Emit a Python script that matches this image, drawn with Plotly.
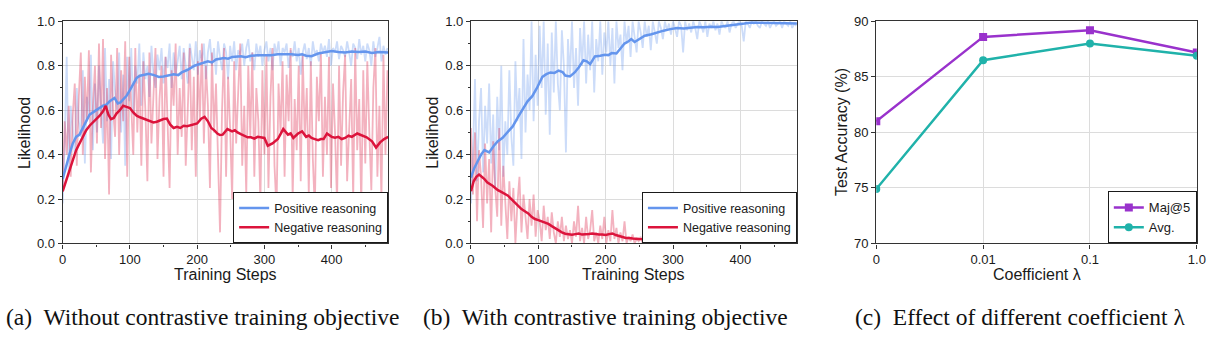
import plotly.graph_objects as go

W, H = 1217, 342

# ---------------- data ----------------
# raw likelihood samples, logged every 3 training steps
raw_steps = list(range(0, 484, 3))

a_pos_raw = [0.18, 0.45, 0.84, 0.30, 0.62, 0.50, 0.40, 0.70, 0.55, 0.48,
             0.78, 0.36, 0.66, 0.58, 0.85, 0.42, 0.72, 0.50, 0.80, 0.62,
             0.45, 0.88, 0.55, 0.74, 0.38, 0.82, 0.68, 0.60, 0.86, 0.50,
             0.76, 0.35, 0.84, 0.64, 0.88, 0.58, 0.80, 0.72, 0.90, 0.62,
             0.86, 0.74, 0.80, 0.66, 0.89, 0.76, 0.70, 0.85, 0.78, 0.88,
             0.72, 0.84, 0.79, 0.90, 0.70, 0.86, 0.76, 0.82, 0.89, 0.74,
             0.88, 0.80, 0.72, 0.90, 0.84, 0.78, 0.91, 0.76, 0.87, 0.82,
             0.90, 0.74, 0.86, 0.92, 0.80, 0.88, 0.76, 0.91, 0.84, 0.78,
             0.90, 0.86, 0.74, 0.89, 0.82, 0.91, 0.78, 0.87, 0.85, 0.90,
             0.80, 0.88, 0.92, 0.82, 0.86, 0.78, 0.90, 0.84, 0.89, 0.80,
             0.87, 0.91, 0.82, 0.88, 0.78, 0.90, 0.85, 0.91, 0.80, 0.88,
             0.86, 0.90, 0.79, 0.87, 0.84, 0.91, 0.82, 0.88, 0.76, 0.86,
             0.90, 0.83, 0.88, 0.80, 0.91, 0.85, 0.87, 0.82, 0.90, 0.86,
             0.89, 0.84, 0.92, 0.80, 0.88, 0.86, 0.91, 0.83, 0.89, 0.87,
             0.84, 0.91, 0.86, 0.80, 0.90, 0.88, 0.83, 0.92, 0.85, 0.89,
             0.82, 0.90, 0.87, 0.80, 0.91, 0.84, 0.88, 0.93, 0.82, 0.89,
             0.85, 0.88]

a_neg_raw = [0.24, 0.55, 0.40, 0.62, 0.30, 0.58, 0.72, 0.35, 0.66, 0.86,
             0.40, 0.75, 0.55, 0.87, 0.32, 0.62, 0.80, 0.45, 0.90, 0.52,
             0.92, 0.38, 0.70, 0.22, 0.85, 0.60, 0.48, 0.88, 0.40, 0.78,
             0.55, 0.91, 0.30, 0.84, 0.62, 0.40, 0.88, 0.50, 0.76, 0.35,
             0.82, 0.60, 0.28, 0.86, 0.45, 0.70, 0.88, 0.38, 0.65, 0.80,
             0.30, 0.84, 0.55, 0.25, 0.78, 0.62, 0.90, 0.40, 0.70, 0.48,
             0.86, 0.35, 0.60, 0.88, 0.42, 0.75, 0.30, 0.82, 0.55, 0.90,
             0.45, 0.80, 0.62, 0.25, 0.86, 0.50, 0.72, 0.35, 0.05, 0.60,
             0.88, 0.30, 0.75, 0.52, 0.20, 0.82, 0.45, 0.68, 0.90, 0.35,
             0.62, 0.22, 0.80, 0.48, 0.86, 0.30, 0.70, 0.55, 0.18, 0.78,
             0.40, 0.85, 0.25, 0.66, 0.88, 0.35, 0.15, 0.72, 0.50, 0.82,
             0.30, 0.76, 0.55, 0.88, 0.20, 0.65, 0.42, 0.80, 0.28, 0.85,
             0.48, 0.70, 0.22, 0.82, 0.38, 0.15, 0.75, 0.55, 0.86, 0.30,
             0.66, 0.40, 0.84, 0.25, 0.72, 0.50, 0.18, 0.80, 0.35, 0.68,
             0.85, 0.28, 0.55, 0.74, 0.20, 0.88, 0.42, 0.65, 0.17, 0.78,
             0.36, 0.82, 0.50, 0.24, 0.70, 0.88, 0.30, 0.62, 0.20, 0.85,
             0.40, 0.78]

b_pos_raw = [0.18, 0.40, 0.74, 0.28, 0.55, 0.70, 0.32, 0.62, 0.45, 0.72,
             0.36, 0.58, 0.25, 0.66, 0.42, 0.80, 0.30, 0.55, 0.40, 0.78,
             0.48, 0.35, 0.82, 0.55, 0.70, 0.38, 0.92, 0.50, 0.76, 0.60,
             1.00, 0.55, 0.85, 0.62, 0.98, 0.70, 1.00, 0.58, 0.90, 0.49,
             0.95, 0.68, 1.00, 0.72, 0.60, 0.96, 0.80, 0.41, 0.92, 0.75,
             1.00, 0.70, 0.88, 0.62, 0.97, 0.80, 1.00, 0.72, 0.94, 0.78,
             1.00, 0.68, 0.92, 0.82, 1.00, 0.76, 0.95, 0.86, 1.00, 0.80,
             0.97, 0.72, 1.00, 0.88, 0.94, 0.78, 1.00, 0.90, 0.98, 0.84,
             1.00, 0.92, 0.86, 1.00, 0.95, 0.88, 1.00, 0.93, 0.98, 0.87,
             1.00, 0.95, 0.90, 1.00, 0.97, 0.92, 1.00, 0.96, 0.99, 0.94,
             1.00, 0.97, 0.93, 1.00, 0.98, 0.86, 1.00, 0.96, 0.99, 0.95,
             1.00, 0.97, 0.92, 1.00, 0.98, 0.95, 1.00, 0.93, 0.99, 0.97,
             1.00, 0.96, 0.99, 0.94, 1.00, 0.98, 0.97, 1.00, 0.95, 0.99,
             1.00, 0.97, 0.99, 1.00, 0.98, 0.91, 1.00, 0.99, 0.97, 1.00,
             0.99, 1.00, 0.98, 0.97, 1.00, 0.99, 0.98, 1.00, 0.97, 0.99,
             1.00, 0.98, 0.99, 1.00, 0.97, 1.00, 0.99, 0.98, 1.00, 0.97,
             0.99, 0.98]

b_neg_raw = [0.52, 0.22, 0.50, 0.10, 0.42, 0.30, 0.07, 0.45, 0.18, 0.38,
             0.05, 0.46, 0.25, 0.12, 0.52, 0.08, 0.35, 0.15, 0.02, 0.28,
             0.10, 0.25, 0.00, 0.18, 0.30, 0.05, 0.22, 0.12, 0.02, 0.20,
             0.08, 0.22, 0.03, 0.15, 0.10, 0.01, 0.17, 0.06, 0.12, 0.02,
             0.14, 0.05, 0.00, 0.10, 0.03, 0.12, 0.01, 0.08, 0.02, 0.06,
             0.00, 0.10, 0.03, 0.17, 0.01, 0.07, 0.00, 0.12, 0.02, 0.06,
             0.15, 0.01, 0.05, 0.00, 0.08, 0.02, 0.12, 0.00, 0.06, 0.01,
             0.15, 0.02, 0.07, 0.00, 0.05, 0.01, 0.10, 0.00, 0.03, 0.01,
             0.04, 0.00, 0.02, 0.01, 0.03, 0.00, 0.02, 0.01, 0.00, 0.02,
             0.01, 0.00, 0.02, 0.01, 0.00, 0.01, 0.02, 0.00, 0.01, 0.01,
             0.00, 0.02, 0.01, 0.00, 0.01, 0.00, 0.02, 0.01, 0.00, 0.01,
             0.01, 0.00, 0.02, 0.00, 0.01, 0.01, 0.00, 0.01, 0.02, 0.00,
             0.01, 0.00, 0.01, 0.01, 0.00, 0.02, 0.00, 0.01, 0.00, 0.01,
             0.00, 0.01, 0.01, 0.00, 0.01, 0.00, 0.02, 0.00, 0.01, 0.00,
             0.01, 0.00, 0.00, 0.01, 0.00, 0.01, 0.01, 0.00, 0.01, 0.00,
             0.00, 0.01, 0.00, 0.01, 0.00, 0.00, 0.01, 0.00, 0.01, 0.00,
             0.01, 0.00]

# smoothed curves
a_pos_steps = [0, 5, 10, 15, 20, 25, 30, 35, 40, 45, 50, 55, 60, 65, 70, 77, 82, 86, 90, 95,
               100, 105, 110, 115, 120, 128, 136, 143, 150, 157, 165, 172, 177, 186, 196, 206,
               216, 222, 228, 240, 246, 252, 265, 272, 280, 290, 300, 310, 320, 330, 340,
               350, 356, 362, 370, 380, 390, 400, 410, 420, 430, 440, 450, 460, 470, 484]
a_pos_smooth = [0.29, 0.35, 0.40, 0.45, 0.48, 0.49, 0.52, 0.55, 0.58, 0.59, 0.60, 0.61,
                0.62, 0.625, 0.64, 0.655, 0.63, 0.635, 0.65, 0.665, 0.69, 0.72, 0.745,
                0.755, 0.758, 0.764, 0.758, 0.75, 0.752, 0.757, 0.762, 0.758, 0.77, 0.782,
                0.80, 0.81, 0.82, 0.815, 0.828, 0.835, 0.832, 0.84, 0.843, 0.838, 0.845,
                0.847, 0.848, 0.847, 0.852, 0.853, 0.852, 0.849, 0.852, 0.845, 0.843, 0.855,
                0.862, 0.866, 0.862, 0.86, 0.864, 0.862, 0.864, 0.858, 0.862, 0.86]

a_neg_steps = [0, 5, 10, 15, 20, 25, 30, 35, 40, 45, 50, 55, 60, 64, 68, 72, 76, 80, 85, 90,
               95, 100, 105, 110, 115, 120, 125, 130, 135, 140, 145, 150, 155, 160, 165, 170,
               175, 180, 185, 190, 195, 200, 206, 211, 216, 221, 226, 230, 234, 238, 245,
               252, 256, 260, 265, 270, 275, 280, 285, 290, 295, 300, 305, 312, 320, 324,
               328, 335, 339, 343, 350, 356, 362, 366, 370, 375, 380, 384, 388, 393, 400,
               405, 410, 415, 420, 425, 430, 438, 445, 452, 460, 466, 472, 478, 484]
a_neg_smooth = [0.235, 0.28, 0.33, 0.38, 0.42, 0.45, 0.48, 0.51, 0.53, 0.545, 0.56, 0.575,
                0.595, 0.62, 0.58, 0.56, 0.565, 0.585, 0.60, 0.62, 0.615, 0.61, 0.59,
                0.575, 0.568, 0.563, 0.556, 0.553, 0.545, 0.548, 0.555, 0.56, 0.562, 0.535,
                0.52, 0.525, 0.52, 0.53, 0.528, 0.532, 0.538, 0.54, 0.562, 0.57, 0.55,
                0.52, 0.508, 0.495, 0.488, 0.49, 0.515, 0.505, 0.51, 0.50, 0.492, 0.485,
                0.478, 0.478, 0.472, 0.48, 0.476, 0.475, 0.44, 0.45, 0.47, 0.49, 0.515,
                0.49, 0.496, 0.475, 0.495, 0.505, 0.48, 0.486, 0.475, 0.47, 0.465, 0.47,
                0.47, 0.495, 0.48, 0.476, 0.48, 0.47, 0.475, 0.485, 0.48, 0.495, 0.485,
                0.478, 0.46, 0.432, 0.455, 0.47, 0.48]

b_pos_steps = [0, 5, 10, 15, 20, 27, 34, 40, 47, 54, 62, 70, 77, 84, 91, 98, 106, 112, 118,
               124, 130, 136, 140, 147, 154, 160, 167, 172, 177, 184, 192, 199, 204, 209,
               216, 222, 228, 234, 238, 243, 250, 258, 268, 276, 286, 296, 306, 316, 326,
               336, 346, 356, 366, 376, 386, 396, 406, 416, 426, 436, 446, 456, 466, 476, 484]
b_pos_smooth = [0.297, 0.34, 0.37, 0.40, 0.42, 0.41, 0.44, 0.46, 0.476, 0.50, 0.527, 0.57,
                0.605, 0.64, 0.663, 0.70, 0.75, 0.762, 0.77, 0.768, 0.778, 0.772, 0.756,
                0.752, 0.77, 0.792, 0.825, 0.82, 0.807, 0.842, 0.845, 0.85, 0.848, 0.857,
                0.855, 0.875, 0.90, 0.91, 0.92, 0.907, 0.92, 0.935, 0.942, 0.95, 0.958,
                0.965, 0.97, 0.968, 0.972, 0.975, 0.973, 0.976, 0.975, 0.978, 0.983, 0.987,
                0.99, 0.995, 0.994, 0.993, 0.995, 0.992, 0.99, 0.991, 0.99]

b_neg_steps = [0, 4, 8, 12, 16, 20, 24, 28, 32, 36, 40, 45, 50, 55, 60, 65, 70, 75, 80, 85,
               90, 95, 100, 105, 110, 115, 120, 125, 130, 135, 140, 145, 150, 155, 160, 165,
               170, 175, 180, 185, 190, 195, 200, 205, 210, 215, 220, 225, 230, 235, 240,
               250, 260, 280, 300, 330, 360, 400, 440, 484]
b_neg_smooth = [0.235, 0.28, 0.30, 0.31, 0.30, 0.29, 0.275, 0.268, 0.26, 0.25, 0.24, 0.232,
                0.225, 0.215, 0.20, 0.185, 0.17, 0.155, 0.145, 0.135, 0.12, 0.11, 0.105,
                0.10, 0.093, 0.088, 0.078, 0.068, 0.058, 0.05, 0.044, 0.04, 0.039, 0.042,
                0.045, 0.04, 0.04, 0.043, 0.045, 0.042, 0.04, 0.04, 0.038, 0.042, 0.045,
                0.038, 0.033, 0.028, 0.025, 0.025, 0.022, 0.02, 0.02, 0.018, 0.015, 0.013,
                0.012, 0.01, 0.01, 0.009]

# coefficient sweep
coef_labels = ["0", "0.01", "0.1", "1.0"]
maj5_acc = [81.0, 88.6, 89.2, 87.2]
avg_acc = [74.9, 86.5, 88.0, 86.9]

captions = ["(a)\u00a0 Without contrastive training objective",
            "(b)\u00a0 With contrastive training objective",
            "(c)\u00a0 Effect of different coefficient \u03bb"]

# ---------------- styling ----------------
BLUE = "#6495ED"
RED = "#DC143C"
BLUE_RAW = "rgba(100,149,237,0.33)"
RED_RAW = "rgba(220,20,60,0.33)"
PURPLE = "#9932CC"
TEAL = "#20B2AA"
SANS = "Arial, 'Liberation Sans', sans-serif"
SERIF = "'Times New Roman', 'Liberation Serif', serif"
INK = "#1a1a1a"

# panel frames in pixels: (left, right)
panels = [(59.3, 388.3), (472.0, 801.5), (881.7, 1205.7)]
top_px, bot_px = 15.0, 247.3


def px_x(p):
    return p / W


def px_y(p):
    return 1 - p / H


fig = go.Figure()


def add_training_panel(idx, pos_raw, neg_raw, pos_x, pos_s, neg_x, neg_s):
    xa = "x" if idx == 1 else f"x{idx}"
    ya = "y" if idx == 1 else f"y{idx}"
    lg = "legend" if idx == 1 else f"legend{idx}"
    fig.add_trace(go.Scatter(x=raw_steps, y=pos_raw, mode="lines",
                             line=dict(color=BLUE_RAW, width=1.8), showlegend=False,
                             xaxis=xa, yaxis=ya, hoverinfo="skip"))
    fig.add_trace(go.Scatter(x=raw_steps, y=neg_raw, mode="lines",
                             line=dict(color=RED_RAW, width=1.8), showlegend=False,
                             xaxis=xa, yaxis=ya, hoverinfo="skip"))
    fig.add_trace(go.Scatter(x=pos_x, y=pos_s, mode="lines", name="Positive reasoning",
                             line=dict(color=BLUE, width=2.5), legend=lg,
                             xaxis=xa, yaxis=ya))
    fig.add_trace(go.Scatter(x=neg_x, y=neg_s, mode="lines", name="Negative reasoning",
                             line=dict(color=RED, width=2.5), legend=lg,
                             xaxis=xa, yaxis=ya))


add_training_panel(1, a_pos_raw, a_neg_raw, a_pos_steps, a_pos_smooth, a_neg_steps, a_neg_smooth)
add_training_panel(2, b_pos_raw, b_neg_raw, b_pos_steps, b_pos_smooth, b_neg_steps, b_neg_smooth)

fig.add_trace(go.Scatter(x=[0, 1, 2, 3], y=maj5_acc, mode="lines+markers", name="Maj@5",
                         line=dict(color=PURPLE, width=2.5),
                         marker=dict(symbol="square", size=8, color=PURPLE),
                         legend="legend3", xaxis="x3", yaxis="y3"))
fig.add_trace(go.Scatter(x=[0, 1, 2, 3], y=avg_acc, mode="lines+markers", name="Avg.",
                         line=dict(color=TEAL, width=2.5),
                         marker=dict(symbol="circle", size=8, color=TEAL),
                         legend="legend3", xaxis="x3", yaxis="y3"))

axis_common = dict(showline=True, mirror=True, linecolor="#333333", linewidth=1.2,
                   showgrid=True, gridcolor="#dcdcdc", gridwidth=1, zeroline=False,
                   ticks="outside", ticklen=4, tickwidth=1, tickcolor="#333333",
                   tickfont=dict(family=SANS, size=13, color=INK))

layout = dict(width=W, height=H, margin=dict(l=0, r=0, t=0, b=0), autosize=False,
              paper_bgcolor="white", plot_bgcolor="white", font=dict(family=SANS, color=INK))

ydom = [px_y(bot_px), px_y(top_px)]
for i, (l, r) in enumerate(panels, start=1):
    xk = "xaxis" if i == 1 else f"xaxis{i}"
    yk = "yaxis" if i == 1 else f"yaxis{i}"
    anchor_x = "x" if i == 1 else f"x{i}"
    anchor_y = "y" if i == 1 else f"y{i}"
    if i < 3:
        layout[xk] = dict(axis_common, domain=[px_x(l), px_x(r)], anchor=anchor_y,
                          range=[0, 484], dtick=100, tick0=0,
                          minor=dict(dtick=50, ticks="outside", ticklen=2,
                                     tickcolor="#333333", showgrid=False))
        layout[yk] = dict(axis_common, domain=ydom, anchor=anchor_x,
                          range=[0, 1], dtick=0.2, tickformat=".1f",
                          minor=dict(dtick=0.1, ticks="outside", ticklen=2,
                                     tickcolor="#333333", showgrid=False))
    else:
        layout[xk] = dict(axis_common, domain=[px_x(l), px_x(r)], anchor=anchor_y,
                          range=[0, 3], tickmode="array", tickvals=[0, 1, 2, 3],
                          ticktext=coef_labels)
        layout[yk] = dict(axis_common, domain=ydom, anchor=anchor_x,
                          range=[70, 90], dtick=5)

legend_common = dict(bgcolor="white", bordercolor="#1a1a1a", borderwidth=1,
                     xanchor="right", yanchor="bottom", tracegroupgap=0,
                     font=dict(family=SANS, size=12.5, color=INK))
layout["legend"] = dict(legend_common, x=px_x(panels[0][1]), y=px_y(bot_px))
layout["legend2"] = dict(legend_common, x=px_x(panels[1][1]), y=px_y(bot_px))
layout["legend3"] = dict(legend_common, x=px_x(panels[2][1]), y=px_y(bot_px),
                         font=dict(family=SANS, size=13, color=INK))

fig.update_layout(**layout)

# axis titles
title_font = dict(family=SANS, size=16, color=INK)
x_titles = ["Training Steps", "Training Steps", "Coefficient \u03bb"]
y_titles = ["Likelihood", "Likelihood", "Test Accuracy (%)"]
y_title_px = [20.7, 433.0, 846.7]
for i, (l, r) in enumerate(panels):
    fig.add_annotation(text=x_titles[i], xref="paper", yref="paper",
                       x=px_x((l + r) / 2), y=px_y(279.3), xanchor="center", yanchor="middle",
                       showarrow=False, font=title_font)
    fig.add_annotation(text=y_titles[i], xref="paper", yref="paper",
                       x=px_x(y_title_px[i]), y=px_y((top_px + bot_px) / 2),
                       xanchor="center", yanchor="middle", textangle=-90,
                       showarrow=False, font=title_font)

# sub-figure captions
cap_centers = [201.0, 607.5, 1027.0]
for txt, cx in zip(captions, cap_centers):
    fig.add_annotation(text=txt, xref="paper", yref="paper", x=px_x(cx), y=px_y(324.0),
                       xanchor="center", yanchor="middle", showarrow=False,
                       font=dict(family=SERIF, size=23.5, color="#111111"))

fig.write_html("out.html")
